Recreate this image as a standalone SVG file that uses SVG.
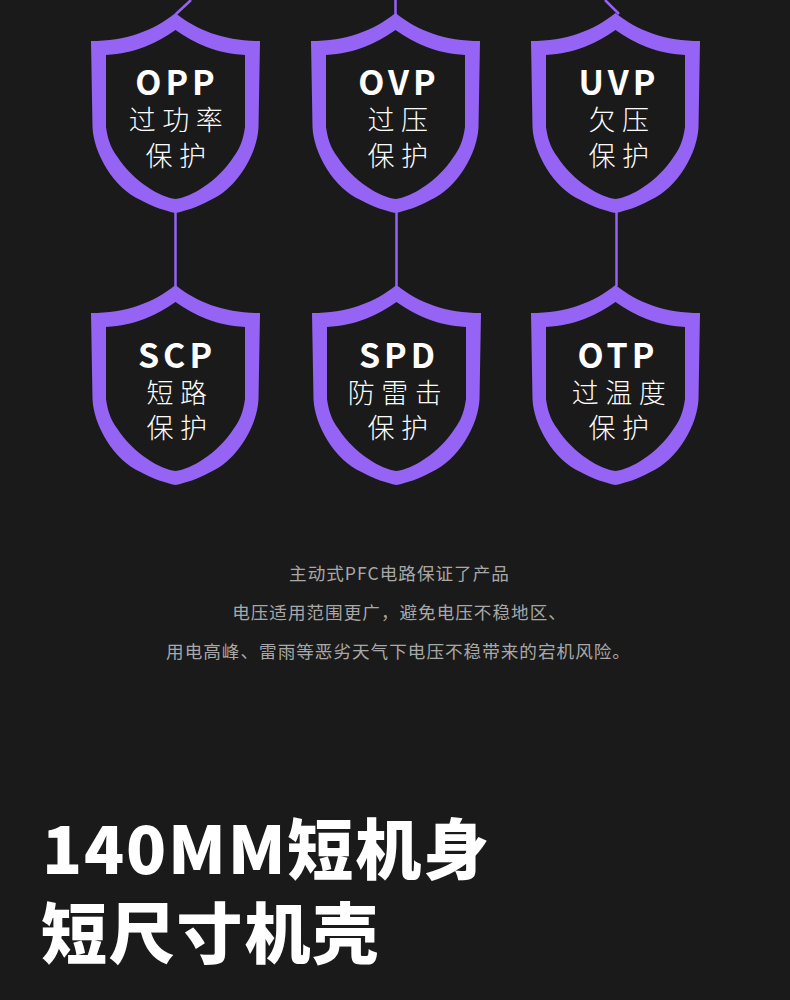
<svg xmlns="http://www.w3.org/2000/svg" xmlns:xlink="http://www.w3.org/1999/xlink" width="790" height="1000" viewBox="0 0 790 1000">
<style>
.en{font-family:"Noto Sans CJK SC","Noto Sans",sans-serif;font-weight:700;font-size:34px;fill:#fff;text-anchor:middle;letter-spacing:4px}
.cn{font-family:"Noto Sans CJK SC",sans-serif;font-weight:300;font-size:27px;fill:#fff;text-anchor:middle;letter-spacing:6.500px}
.p{font-family:"Noto Sans CJK SC",sans-serif;font-weight:400;font-size:17.600px;fill:#a8a8a8;text-anchor:middle;letter-spacing:1px}
.h{font-family:"Noto Sans CJK SC",sans-serif;font-weight:900;font-size:66px;fill:#fff;letter-spacing:1.800px}
.c{stroke:#9664f5;stroke-width:2.500;fill:none}
</style>
<defs>
<path id="sh" fill="#9664f5" fill-rule="evenodd" d="M0 0C22 18 50 28 84.500 28L83 114C82 140 62 175 35 187C22 194 10 198 0 200C-10 198 -22 194 -35 187C-62 175 -82 140 -83 114L-84.500 28C-50 28 -22 18 0 0ZM0 17C-20 31 -40 40 -69.500 42L-69.500 114C-68 125 -65 135 -58 144C-50 156 -40 166 -28 174C-18 181 -8 185 0 186C8 185 18 181 28 174C40 166 50 156 58 144C65 135 68 125 69.500 114L69.500 42C40 40 20 31 0 17Z"/>
</defs>
<rect width="790" height="1000" fill="#1a1a1a"/>
<g id="connectors" class="c">
<path d="M191 0L176 14"/><path d="M395.500 0V14"/><path d="M605 0L619 14"/>
<path d="M175.500 212V286"/><path d="M396.500 212V286"/><path d="M616.500 212V286"/>
</g>
<g id="opp"><use xlink:href="#sh" href="#sh" x="175.500" y="13"/><text class="en" x="177" y="95">OPP</text><text class="cn" x="179" y="130">过功率</text><text class="cn" x="179" y="166">保护</text></g>
<g id="ovp"><use xlink:href="#sh" href="#sh" x="395.500" y="13"/><text class="en" x="399" y="95">OVP</text><text class="cn" x="401" y="130">过压</text><text class="cn" x="401" y="166">保护</text></g>
<g id="uvp"><use xlink:href="#sh" href="#sh" x="615.500" y="13"/><text class="en" x="619" y="95">UVP</text><text class="cn" x="622" y="130">欠压</text><text class="cn" x="622" y="166">保护</text></g>
<g id="scp"><use xlink:href="#sh" href="#sh" x="175.500" y="285"/><text class="en" x="177" y="368">SCP</text><text class="cn" x="180" y="403">短路</text><text class="cn" x="180" y="438">保护</text></g>
<g id="spd"><use xlink:href="#sh" href="#sh" x="396.500" y="285"/><text class="en" x="399" y="368">SPD</text><text class="cn" x="398" y="403">防雷击</text><text class="cn" x="401" y="438">保护</text></g>
<g id="otp"><use xlink:href="#sh" href="#sh" x="615.500" y="285"/><text class="en" x="618" y="368">OTP</text><text class="cn" x="622" y="403">过温度</text><text class="cn" x="622" y="438">保护</text></g>
<g id="desc">
<text class="p" x="399.500" y="580">主动式PFC电路保证了产品</text>
<text class="p" x="399.500" y="619">电压适用范围更广，避免电压不稳地区、</text>
<text class="p" x="398.500" y="658">用电高峰、雷雨等恶劣天气下电压不稳带来的宕机风险。</text>
</g>
<g id="title">
<text class="h" x="42" y="874">140MM短机身</text>
<text class="h" x="41" y="958">短尺寸机壳</text>
</g>
</svg>
